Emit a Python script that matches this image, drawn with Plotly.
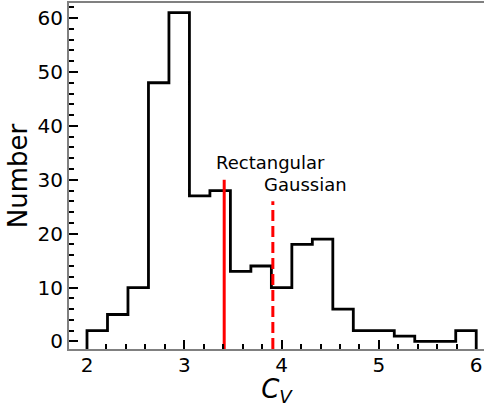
import plotly.graph_objects as go

# ---- data ----
bin_lo = 2.0
bin_hi = 6.0
n_bins = 19
counts = [2, 5, 10, 48, 61, 27, 28, 13, 14, 10, 18, 19, 6, 2, 2, 1, 0, 0, 2]

rect_x = 3.41
rect_top = 30
gauss_x = 3.91
gauss_top = 26

x_range = [1.815, 6.08]
y_range = [-1.4, 62.8]

x_title = "<i>C</i><sub><i>V</i></sub>"
y_title = "Number"

# ---- build step outline ----
w = (bin_hi - bin_lo) / n_bins
edges = [bin_lo + i * w for i in range(n_bins + 1)]
base = y_range[0]
sx, sy = [edges[0]], [base]
for i, c in enumerate(counts):
    sx += [edges[i], edges[i + 1]]
    sy += [c, c]
sx.append(edges[-1])
sy.append(base)

fig = go.Figure()
fig.add_trace(go.Scatter(x=sx, y=sy, mode="lines",
                         line=dict(color="black", width=2.8), hoverinfo="skip"))
fig.add_trace(go.Scatter(x=[rect_x, rect_x], y=[base, rect_top], mode="lines",
                         line=dict(color="#ff0000", width=3)))
fig.add_trace(go.Scatter(x=[gauss_x, gauss_x], y=[base, gauss_top], mode="lines",
                         line=dict(color="#ff0000", width=3, dash="11px,5px")))

fig.add_annotation(x=3.30, y=33.2, text="Rectangular", showarrow=False,
                   xanchor="left", yanchor="middle",
                   font=dict(family="DejaVu Sans", size=18, color="black"))
fig.add_annotation(x=3.795, y=29.1, text="Gaussian", showarrow=False,
                   xanchor="left", yanchor="middle",
                   font=dict(family="DejaVu Sans", size=18, color="black"))

axis_common = dict(
    showline=True, linecolor="#808080", linewidth=2,
    showgrid=False, zeroline=False,
    ticks="inside", tickcolor="black", tickwidth=2, ticklen=9,
    tickfont=dict(family="DejaVu Sans", size=20, color="black"),
)

fig.update_layout(
    width=484, height=407,
    margin=dict(l=69, r=0, t=3, b=58, pad=0),
    paper_bgcolor="white", plot_bgcolor="white",
    showlegend=False,
    font=dict(family="DejaVu Sans", color="black"),
    xaxis=dict(range=x_range, tick0=0, dtick=1, mirror=True, ticklabelstandoff=-3,
               minor=dict(dtick=0.2, ticks="inside", ticklen=5, tickwidth=2, tickcolor="black"),
               title=dict(text=x_title, font=dict(size=26, family="DejaVu Sans"), standoff=0),
               **axis_common),
    yaxis=dict(range=y_range, tick0=0, dtick=10, mirror=False,
               minor=dict(dtick=2, ticks="inside", ticklen=5, tickwidth=2, tickcolor="black"),
               title=dict(text=y_title, font=dict(size=26, family="DejaVu Sans"), standoff=2),
               **axis_common),
)

fig.write_html("out.html")
